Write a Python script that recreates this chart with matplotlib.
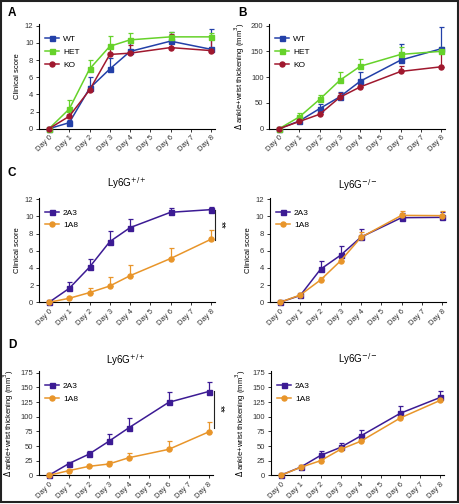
import matplotlib
matplotlib.use('Agg')
import matplotlib.pyplot as plt
from matplotlib.patches import Rectangle
from matplotlib.lines import Line2D

plt.rcParams['font.family'] = ['Liberation Sans', 'DejaVu Sans']

# data
days = [0, 1, 2, 3, 4, 6, 8]
day_labels = ['Day 0', 'Day 1', 'Day 2', 'Day 3', 'Day 4', 'Day 5', 'Day 6', 'Day 7', 'Day 8']

a_wt = [0, 0.7, 4.7, 6.95, 9.0, 10.2, 9.25]
a_wt_err = [0, 0.3, 1.3, 1.3, 1.0, 1.1, 2.4]
a_het = [0, 2.3, 6.95, 9.6, 10.35, 10.7, 10.7]
a_het_err = [0, 1.0, 1.1, 1.2, 0.8, 0.6, 0.5]
a_ko = [0, 1.45, 4.5, 8.65, 8.8, 9.45, 9.1]
a_ko_err = [0, 0.6, 0.5, 0.7, 1.0, 1.6, 1.7]

b_wt = [0, 15, 39, 62, 92, 133, 155]
b_wt_err = [0, 3, 8, 10, 17, 31, 43]
b_het = [0, 23, 57, 94, 121, 144, 150]
b_het_err = [0, 7, 8, 15, 14, 15, 8]
b_ko = [0, 14, 28, 61, 81, 111, 120]
b_ko_err = [0, 3, 5, 8, 6, 10, 30]

c_wt_2a3 = [0, 1.63, 4.1, 7.07, 8.7, 10.49, 10.8]
c_wt_2a3_err = [0, 0.7, 0.9, 1.2, 1.05, 0.45, 0.35]
c_wt_1a8 = [0, 0.47, 1.13, 1.9, 3.1, 5.1, 7.35]
c_wt_1a8_err = [0, 0.1, 0.5, 1.0, 1.25, 1.2, 1.05]
c_ko_2a3 = [0, 0.8, 3.85, 5.5, 7.6, 9.86, 9.9]
c_ko_2a3_err = [0, 0.1, 1.0, 1.1, 0.9, 0.6, 0.6]
c_ko_1a8 = [0, 0.85, 2.6, 4.85, 7.57, 10.13, 10.1]
c_ko_1a8_err = [0, 0.1, 0.3, 0.8, 0.6, 0.55, 0.5]

d_wt_2a3 = [0, 20, 36, 58, 81, 124.5, 143]
d_wt_2a3_err = [0, 3, 5, 12, 16, 18.5, 15.5]
d_wt_1a8 = [0, 8, 15.3, 19.3, 30, 44.3, 74]
d_wt_1a8_err = [0, 1, 2, 5, 8.6, 14, 16.3]
d_ko_2a3 = [0, 14, 34, 47.7, 67, 106, 133]
d_ko_2a3_err = [0, 2, 8, 8, 11, 11.6, 10.7]
d_ko_1a8 = [0, 13.6, 25, 44.3, 58, 98, 128]
d_ko_1a8_err = [0, 1, 2, 2, 2, 2, 3]

BLUE = '#2340a8'
GREEN = '#66d22a'
RED = '#a0182e'
PURPLE = '#3c1b94'
ORANGE = '#e8952a'

fig = plt.figure(figsize=(4.6, 5.04), dpi=100)
fig.add_artist(Rectangle((0.002, 0.003), 0.994, 0.995, transform=fig.transFigure,
                         fill=False, edgecolor='#222222', linewidth=1.5))


def series(ax, y, err, color, marker, label):
    ax.errorbar(days, y, yerr=[[0] * len(err), err], color=color, ecolor=color,
                elinewidth=0.9, capsize=1.8, capthick=0.9, marker=marker,
                markersize=3.6, linewidth=1.1, clip_on=False, zorder=3)
    return Line2D([], [], color=color, marker=marker, markersize=3.6, linewidth=1.1, label=label)


def style(ax, ymax, yticks, ylabel, handles):
    ax.set_xlim(-0.5, 8.2)
    ax.set_ylim(0, ymax)
    ax.set_xticks(range(9))
    ax.set_xticklabels(day_labels, rotation=45, ha='right', rotation_mode='anchor')
    ax.set_yticks(yticks)
    ax.spines['top'].set_visible(False)
    ax.spines['right'].set_visible(False)
    for s in ('left', 'bottom'):
        ax.spines[s].set_linewidth(0.8)
    ax.tick_params(labelsize=5.5, length=2.5, width=0.7, pad=1.5, colors='#333333')
    ax.set_ylabel(ylabel, fontsize=5.5, labelpad=3)
    ax.legend(handles=handles, loc='upper left', bbox_to_anchor=(0.0, 0.95), frameon=False,
              fontsize=6, handlelength=1.7, handletextpad=0.5, labelspacing=0.6,
              borderaxespad=0.3)


CS = 'Clinical score'
TH = '$\\Delta$ ankle+wrist thickening (mm$^3$)'

axA = fig.add_axes([0.0846, 0.7447, 0.383, 0.2077])
h = [series(axA, a_wt, a_wt_err, BLUE, 's', 'WT'),
     series(axA, a_het, a_het_err, GREEN, 's', 'HET'),
     series(axA, a_ko, a_ko_err, RED, 'o', 'KO')]
style(axA, 12.2, range(0, 13, 2), CS, h)

axB = fig.add_axes([0.585, 0.7447, 0.383, 0.2077])
h = [series(axB, b_wt, b_wt_err, BLUE, 's', 'WT'),
     series(axB, b_het, b_het_err, GREEN, 's', 'HET'),
     series(axB, b_ko, b_ko_err, RED, 'o', 'KO')]
style(axB, 203, range(0, 201, 50), TH, h)

axC1 = fig.add_axes([0.0846, 0.4002, 0.383, 0.2077])
h = [series(axC1, c_wt_2a3, c_wt_2a3_err, PURPLE, 's', '2A3'),
     series(axC1, c_wt_1a8, c_wt_1a8_err, ORANGE, 'o', '1A8')]
style(axC1, 12.2, range(0, 13, 2), CS, h)
axC1.set_title('Ly6G$^{+/+}$', fontsize=7, pad=8)
axC1.plot([8.2, 8.2], [10.8, 7.3], color='#222222', lw=0.8, clip_on=False)
axC1.text(8.5, 9.05, '**', rotation=270, fontsize=7, ha='center', va='center')

axC2 = fig.add_axes([0.5867, 0.4002, 0.383, 0.2077])
h = [series(axC2, c_ko_2a3, c_ko_2a3_err, PURPLE, 's', '2A3'),
     series(axC2, c_ko_1a8, c_ko_1a8_err, ORANGE, 'o', '1A8')]
style(axC2, 12.2, range(0, 13, 2), CS, h)
axC2.set_title('Ly6G$^{-/-}$', fontsize=7, pad=6)

axD1 = fig.add_axes([0.0846, 0.0569, 0.3776, 0.207])
h = [series(axD1, d_wt_2a3, d_wt_2a3_err, PURPLE, 's', '2A3'),
     series(axD1, d_wt_1a8, d_wt_1a8_err, ORANGE, 'o', '1A8')]
style(axD1, 178, range(0, 176, 25), TH, h)
axD1.set_title('Ly6G$^{+/+}$', fontsize=7, pad=5)
axD1.plot([8.25, 8.25], [144, 81], color='#222222', lw=0.8, clip_on=False)
axD1.text(8.55, 113, '**', rotation=270, fontsize=7, ha='center', va='center')

axD2 = fig.add_axes([0.5885, 0.0569, 0.3776, 0.207])
h = [series(axD2, d_ko_2a3, d_ko_2a3_err, PURPLE, 's', '2A3'),
     series(axD2, d_ko_1a8, d_ko_1a8_err, ORANGE, 'o', '1A8')]
style(axD2, 178, range(0, 176, 25), TH, h)
axD2.set_title('Ly6G$^{-/-}$', fontsize=7, pad=6)

for lab, x, y in [('A', 8, 13), ('B', 238, 13), ('C', 8, 173), ('D', 8, 345)]:
    fig.text(x / 460, 1 - y / 504, lab, fontsize=8.5, fontweight='bold', va='center', ha='left')

fig.savefig('out.png', dpi=100)
